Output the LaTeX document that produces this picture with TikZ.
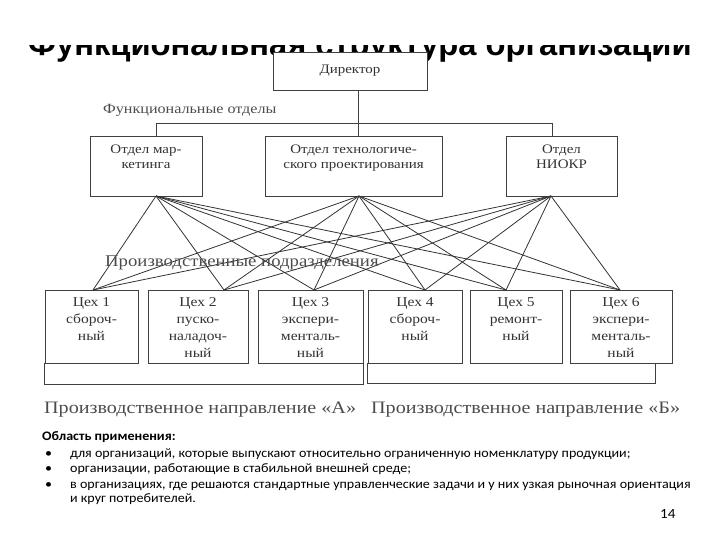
\documentclass[tikz,border=0pt]{standalone}
\usepackage{fontspec}
\setmainfont[FakeStretch=1.15]{Liberation Serif}
\newfontfamily\slidefont[FakeStretch=1.08]{Carlito}
\newfontfamily\headfont{Liberation Sans}
\usetikzlibrary{positioning}

\begin{document}
\begin{tikzpicture}[x=1pt,y=-1pt]
\tikzset{
  orgbox/.style={draw=black!75,fill=white,line width=0.9pt,inner sep=0pt},
  boxtext/.style={align=center,inner sep=0pt,text=black!80,font=\fontsize{13}{15}\selectfont},
  shoptext/.style={align=center,inner sep=0pt,text=black!80,font=\fontsize{13.5}{17}\selectfont},
  grouplabel/.style={anchor=west,inner sep=0pt,text=black!70},
  link/.style={black!80,line width=0.8pt},
  bracket/.style={black!75,line width=0.9pt},
  slidetext/.style={anchor=base west,inner sep=0pt,font=\slidefont\fontsize{13}{15}\selectfont}
}
\useasboundingbox (0,0) rectangle (720,540);
% title, partly hidden behind the scan
\node[anchor=base west,inner sep=0pt,font=\headfont\bfseries\fontsize{32.7}{36}\selectfont] (n_title) at (28,55.5) {Функциональная структура организации};
\fill[white] (0,0) rectangle (720,45.5);
% director and departments
\node[orgbox,minimum width=154,minimum height=38,font=\fontsize{13}{15}\selectfont,text=black!80] (n_dir) at (350,71) {Директор};
\node[grouplabel,font=\fontsize{14}{17}\selectfont] (l_func) at (103,110) {Функциональные отделы};
\node[orgbox,minimum width=112,minimum height=60] (n_mkt) at (146,166) {};
\node[orgbox,minimum width=177,minimum height=60] (n_tech) at (353.5,166) {};
\node[orgbox,minimum width=111,minimum height=60] (n_niokr) at (561.5,166) {};
\node[boxtext,below=9pt of n_mkt.north] (t_mkt) {Отдел мар-\\кетинга};
\node[boxtext,below=9pt of n_tech.north] (t_tech) {Отдел технологиче-\\ского проектирования};
\node[boxtext,below=9pt of n_niokr.north] (t_niokr) {Отдел\\НИОКР};
\coordinate (c_mkt) at (156,123);
\coordinate (c_tech) at (358,136);
\coordinate (c_niokr) at (552,123);
\draw[bracket] (c_tech |- n_dir.south) -- (c_tech);
\draw[bracket] (c_mkt |- n_mkt.north) -- (c_mkt) -- (c_niokr) -- (c_niokr |- n_niokr.north);
% workshops
\node[orgbox,minimum width=93,minimum height=73] (n_w1) at (91.5,326.5) {};
\node[orgbox,minimum width=100,minimum height=73] (n_w2) at (198,326.5) {};
\node[orgbox,minimum width=105,minimum height=73] (n_w3) at (310.5,326.5) {};
\node[orgbox,minimum width=94,minimum height=73] (n_w4) at (415,326.5) {};
\node[orgbox,minimum width=92,minimum height=73] (n_w5) at (516,326.5) {};
\node[orgbox,minimum width=102,minimum height=73] (n_w6) at (621,326.5) {};
\node[shoptext,below=8pt of n_w1.north] (t_w1) {Цех 1\\сбороч-\\ный};
\node[shoptext,below=8pt of n_w2.north] (t_w2) {Цех 2\\пуско-\\наладоч-\\ный};
\node[shoptext,below=8pt of n_w3.north] (t_w3) {Цех 3\\экспери-\\менталь-\\ный};
\node[shoptext,below=8pt of n_w4.north] (t_w4) {Цех 4\\сбороч-\\ный};
\node[shoptext,below=8pt of n_w5.north] (t_w5) {Цех 5\\ремонт-\\ный};
\node[shoptext,below=8pt of n_w6.north] (t_w6) {Цех 6\\экспери-\\менталь-\\ный};
% attach points
\coordinate (p_mkt) at (156,196);
\coordinate (p_tech) at (359,196);
\coordinate (p_niokr) at (551,196);
\coordinate (q_w1) at (93,290);
\coordinate (q_w2) at (224,290);
\coordinate (q_w3) at (314,290);
\coordinate (q_w4) at (425,290);
\coordinate (q_w5) at (506,290);
\coordinate (q_w6) at (620,290);
\draw[link] (p_mkt) -- (q_w1);
\draw[link] (p_mkt) -- (q_w2);
\draw[link] (p_mkt) -- (q_w3);
\draw[link] (p_mkt) -- (q_w4);
\draw[link] (p_mkt) -- (q_w5);
\draw[link] (p_mkt) -- (q_w6);
\draw[link] (p_tech) -- (q_w1);
\draw[link] (p_tech) -- (q_w2);
\draw[link] (p_tech) -- (q_w3);
\draw[link] (p_tech) -- (q_w4);
\draw[link] (p_tech) -- (q_w5);
\draw[link] (p_tech) -- (q_w6);
\draw[link] (p_niokr) -- (q_w1);
\draw[link] (p_niokr) -- (q_w2);
\draw[link] (p_niokr) -- (q_w3);
\draw[link] (p_niokr) -- (q_w4);
\draw[link] (p_niokr) -- (q_w5);
\draw[link] (p_niokr) -- (q_w6);
\node[grouplabel,font=\fontsize{16.3}{19}\selectfont] (l_prod) at (105,263) {Производственные подразделения};
% production directions
\coordinate (c_brB) at (655,363);
\draw[bracket] (n_w1.south west) -- ++(0,21) -| (n_w3.south east);
\draw[bracket] (n_w4.south west) -- ++(0,20) -| (c_brB);
\node[grouplabel,font=\fontsize{17.5}{20}\selectfont] (l_dirA) at (44,410) {Производственное направление «А»};
\node[grouplabel,font=\fontsize{17.5}{20}\selectfont] (l_dirB) at (371,410) {Производственное направление «Б»};
% slide text
\node[slidetext,font=\slidefont\bfseries\fontsize{13}{15}\selectfont] (s_head) at (42,440) {Область применения:};
\node[slidetext] (s_b1) at (45,457) {•};
\node[slidetext] (s_l1) at (70,457) {для организаций, которые выпускают относительно ограниченную номенклатуру продукции;};
\node[slidetext] (s_b2) at (45,472) {•};
\node[slidetext] (s_l2) at (70,472) {организации, работающие в стабильной внешней среде;};
\node[slidetext] (s_b3) at (45,488) {•};
\node[slidetext] (s_l3) at (70,488) {в организациях, где решаются стандартные управленческие задачи и у них узкая рыночная ориентация};
\node[slidetext] (s_l4) at (70,502) {и круг потребителей.};
\node[slidetext,font=\slidefont\fontsize{14}{16}\selectfont] (s_page) at (660,518) {14};
\end{tikzpicture}
\end{document}
